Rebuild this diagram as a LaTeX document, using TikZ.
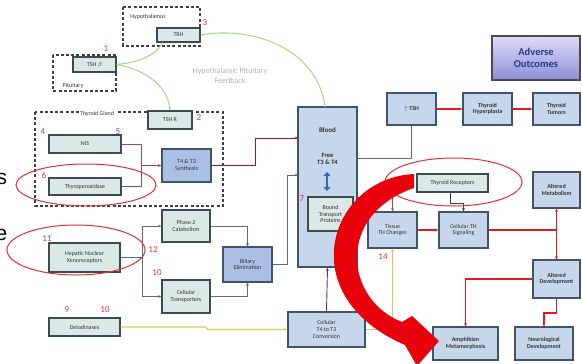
\documentclass[tikz,border=0pt]{standalone}
\usepackage{fontspec}
\setmainfont{Carlito}
\newfontfamily\arialf{Liberation Sans}
\usetikzlibrary{arrows.meta,calc}
\definecolor{gfill}{HTML}{DAE9E6}
\definecolor{bfill}{HTML}{C6D7EC}
\definecolor{dfill}{HTML}{A9C0E4}
\definecolor{bordg}{HTML}{3D4A52}
\definecolor{bordb}{HTML}{41546B}
\definecolor{slate}{HTML}{5B6B7B}
\definecolor{brn}{HTML}{A84848}
\definecolor{lred}{HTML}{E31A1C}
\definecolor{bigred}{HTML}{E8000B}
\definecolor{grn}{HTML}{B0D68C}
\definecolor{ylw}{HTML}{DCCB52}
\definecolor{numred}{HTML}{E03030}
\definecolor{adv1}{HTML}{DCDCF8}
\definecolor{adv2}{HTML}{8E8ED8}
\definecolor{advtxt}{HTML}{263C86}
\definecolor{bluarr}{HTML}{3A64B4}
\tikzset{
  box/.style={draw=bordg, fill=gfill, line width=1.2pt, inner sep=0.5pt, align=center,
    font=\fontsize{6}{6.6}\selectfont, text=black!80},
  bbox/.style={box, fill=bfill, draw=bordb, font=\fontsize{6}{6.6}\selectfont\bfseries},
  dbox/.style={box, fill=dfill, draw=bordb},
  sz/.style 2 args={minimum width=#1pt, minimum height=#2pt},
  dashbox/.style={draw=black!75, line width=1.1pt, dash pattern=on 3pt off 2.2pt},
  num/.style={text=numred, font=\fontsize{9}{9}\selectfont, inner sep=0pt},
  conn/.style={draw=slate, line width=0.9pt},
  redc/.style={draw=lred, line width=1.1pt},
  ring/.style={draw=numred, line width=1pt},
  tip/.style={-{Stealth[length=3.2pt,width=2.8pt]}},
  lbl/.style={font=\fontsize{6}{6.6}\selectfont, text=black!80, inner sep=0.5pt}
}
\begin{document}
\begin{tikzpicture}[x=1pt,y=-1pt]
\useasboundingbox (0,0) rectangle (582,364);
\clip (0,0) rectangle (582,364);

% cut-off slide letters
\node[anchor=base west, inner sep=0, font=\arialf\fontsize{21}{21}\selectfont] (ls) at (-3.5,184) {s};
\node[anchor=base west, inner sep=0, font=\arialf\fontsize{21}{21}\selectfont] (le) at (-4.5,240) {e};

% dashed groups
\draw[dashbox] (123,7) rectangle (200,46);
\draw[dashbox] (53,55) rectangle (116,91);
\draw[dashbox] (35,112) rectangle (223,206);
\node[lbl] (lhyp) at (148,17) {Hypothalamus};
\node[lbl, fill=white] (lpit) at (73,86) {Pituitary};
\node[lbl, fill=white] (lthy) at (97,114) {Thyroid Gland};

% boxes left
\node[box, sz={43}{14}] (TRH) at (178.5,35) {TRH};
\node[box, sz={43}{15}] (TSHb) at (94.5,64.5) {TSH $\beta$};
\node[box, sz={44}{18}] (TSHR) at (170,120) {TSH R};
\node[box, sz={72}{18}] (NIS) at (85,144) {NIS};
\node[box, sz={72}{17}] (TPO) at (85,186.5) {Thyroperoxidase};
\node[dbox, sz={49}{33}] (Synth) at (186.5,165.5) {T4 \& T3\\Synthesis};
\node[box, sz={48}{32}] (Phase) at (186,226) {Phase 2\\Catabolism};
\node[box, sz={48}{33}] (CTrans) at (186,296.5) {Cellular\\Transporters};
\node[dbox, sz={49}{35}] (Bil) at (247.5,264.5) {Biliary\\Elimination};
\node[box, sz={71}{29}] (Hep) at (84.5,257.5) {Hepatic Nuclear\\Xenoreceptors};
\node[box, sz={71}{18}] (Deio) at (84.5,327) {Deiodinases};

% green feedback curves
\draw[draw=grn, line width=1.1pt, tip] ([xshift=6pt]TRH.south west) .. controls (155,58) and (132,63) .. (TSHb.east);
\draw[draw=grn, line width=1.1pt, tip] (TSHb.east) .. controls (148,70) and (168,88) .. (TSHR.north);
\node[text=black!30, align=center, font=\fontsize{8}{9.5}\selectfont] (lfb) at (230,76) {Hypothalamic Pituitary\\Feedback};

% connectors left
\draw[draw=brn, line width=0.9pt] (NIS.east) -| (141,165.5);
\draw[draw=brn, line width=0.9pt] (TPO.east) -| (141,165.5);
\draw[draw=brn, line width=0.9pt, tip] (141,165.5) -- (Synth.west);
\draw[conn] (Hep.east) -- (142,257.5);
\draw[conn, tip] (142,257.5) |- (Phase.west);
\draw[conn, tip] (142,257.5) |- (CTrans.west);
\draw[conn, tip] (Phase.east) -| (Bil.north);
\draw[conn, tip] (CTrans.east) -| (Bil.south);

% Blood
\node[box, fill=bfill, draw=bordb, line width=1.5pt, sz={59}{160}] (Blood) at (327.5,187) {};
\node[lbl, font=\fontsize{7}{8}\selectfont\bfseries] (lblood) at (327.5,130) {Blood};
\node[lbl, font=\fontsize{6.5}{7.5}\selectfont\bfseries, align=center] (lfree) at (327.5,159) {Free\\T3 \& T4};
\draw[draw=bluarr, line width=2.6pt, {Triangle[length=4pt,width=7pt]}-{Triangle[length=4pt,width=7pt]}] (327,172) -- (327,191);
\node[box, sz={45}{34}] (Bound) at (330.5,214) {Bound\\Transport\\Proteins};
\node[box, fill=bfill, draw=bordb, sz={77}{35}] (CConv) at (326.5,329.5) {Cellular\\T4 to T3\\Conversion};

\draw[draw=grn, line width=1.1pt, tip] (325,107) .. controls (318,50) and (255,26) .. (TRH.east);
\draw[draw=lred!75!black, line width=0.9pt, tip] (Synth.east) -- (255,165.5) |- (298,138);
\draw[conn, tip] (Bil.east) -- (287,264.5) |- (298,175);
\draw[draw=ylw, line width=1.1pt, tip] (Deio.east) -- (205,327) -- (208,329.5) -- (CConv.west);
\draw[draw=violet!60!slate, line width=0.9pt, tip] (CConv.north) -- (Blood.south);

% right side boxes
\node[bbox, sz={49}{32}] (TSH) at (411.5,109) {$\uparrow$ TSH};
\node[bbox, sz={49}{32}] (Hyp) at (487.5,109) {Thyroid\\Hyperplasia};
\node[bbox, sz={47}{32}] (Tum) at (556.5,109) {Thyroid\\Tumors};
\node[draw=black!70, line width=1.8pt, top color=adv1, bottom color=adv2, sz={88}{44},
  align=center, text=advtxt, font=\fontsize{10.5}{12.5}\selectfont\bfseries] (Adv) at (536,58) {Adverse\\Outcomes};
\node[box, sz={71}{18}] (TRec) at (452.5,183) {Thyroid Receptors};
\node[box, fill=bfill, draw=bordb, sz={49}{36}] (Tis) at (392.5,230) {Tissue\\TH Changes};
\node[box, fill=bfill, draw=bordb, sz={49}{36}] (CSig) at (463.5,230) {Cellular TH\\Signaling};
\node[bbox, sz={47}{36}] (AMet) at (556.5,190) {Altered\\Metabolism};
\node[bbox, sz={47}{38}] (ADev) at (556.5,279) {Altered\\Development};
\node[bbox, sz={65}{33}] (Amph) at (465.5,343.5) {Amphibian\\Metamorphosis};
\node[bbox, sz={58}{33}] (Neu) at (544,343.5) {Neurological\\Development};

% right connectors
\draw[conn] (357,158) -| (TSH.south);
\draw[draw=brn, line width=0.9pt, tip] (357,197) -| (Tis.north);
\draw[draw=ylw, line width=1.1pt, tip] (CConv.east) -| (Tis.south);
\draw[redc, tip] (TSH.east) -- (Hyp.west);
\draw[redc, tip] (Hyp.east) -- (Tum.west);
\draw[redc, tip] (Tis.east) -- (CSig.west);
\draw[draw=black!75, line width=0.9pt, tip] (450,192) -- (450,203) -| (CSig.north);
\draw[redc] (CSig.east) -- (556.5,230);
\draw[redc, tip] (556.5,230) -- (AMet.south);
\draw[redc, tip] (556.5,230) -- (ADev.north);
\draw[redc, tip] (ADev.west) -| (Amph.north);
\draw[redc, tip] (ADev.south) -- (556.5,313) -| (Neu.north);

% red rings
\draw[ring] (86,185) ellipse [x radius=70, y radius=21];
\draw[ring] (76,250) ellipse [x radius=69, y radius=25];
\draw[ring] (453.5,182) ellipse [x radius=68.5, y radius=24];

% big red arrow
\fill[bigred] (414,174) .. controls (330,178) and (290,295) .. (405,345) -- (417,366) -- (439,341) -- (412,316) -- (402,322) .. controls (345,300) and (335,215) .. (414,188) -- cycle;

% numbers
\node[num] (n1) at (106,49) {1};
\node[num] (n2) at (199,118) {2};
\node[num] (n3) at (205,23) {3};
\node[num] (n4) at (43,132) {4};
\node[num] (n5) at (118,132) {5};
\node[num] (n6) at (44,175) {6};
\node[num] (n7) at (302,199) {7};
\node[num] (n9) at (67,310) {9};
\node[num] (n10a) at (105,310) {10};
\node[num] (n10b) at (157,273) {10};
\node[num] (n11) at (47,239) {11};
\node[num] (n12) at (153,250) {12};
\node[num] (n14) at (383,257) {14};
\end{tikzpicture}
\end{document}
